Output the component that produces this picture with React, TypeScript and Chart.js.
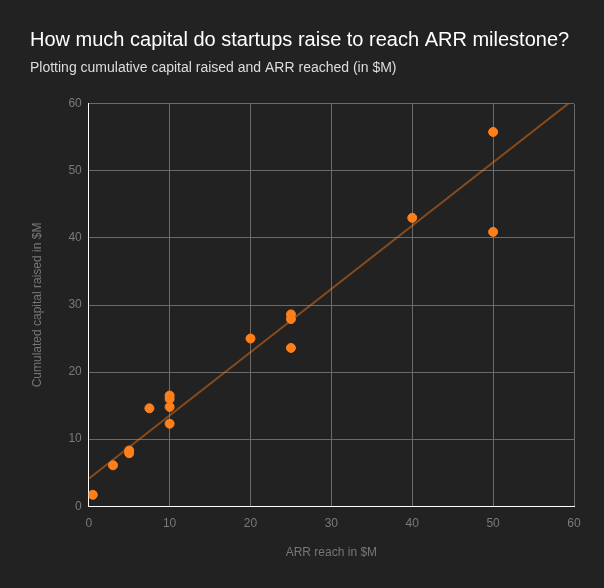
import React, { useEffect, useRef } from "react";
import { Chart, registerables } from "chart.js";

Chart.register(...registerables);

const arrReached = [0.5, 3, 5, 5, 7.5, 10, 10, 10, 10, 20, 25, 25, 25, 40, 50, 50];
const capitalRaised = [1.7, 6.1, 8.3, 7.9, 14.6, 16.5, 16.0, 14.8, 12.3, 25.0, 28.6, 27.9, 23.6, 43.0, 55.8, 40.9];
const trendX = [0, 60];
const trendY = [4.1, 60.7];
const axisTicks = [0, 10, 20, 30, 40, 50, 60];

export default function App() {
  const ref = useRef<HTMLCanvasElement>(null);
  useEffect(() => {
    document.body.style.margin = "0";
    document.body.style.background = "#222222";
    const ctx = ref.current!;
    const chart = new Chart(ctx, {
      type: "scatter",
      data: {
        datasets: [
          {
            label: "Startups",
            data: arrReached.map((x, i) => ({ x, y: capitalRaised[i] })),
            backgroundColor: "#ff7f1a",
            borderColor: "#ff7f1a",
            pointRadius: 4.5,
            pointHoverRadius: 4.5,
            order: 1,
          },
          {
            label: "Trend",
            type: "line",
            data: trendX.map((x, i) => ({ x, y: trendY[i] })),
            borderColor: "rgba(255,127,26,0.45)",
            borderWidth: 2,
            pointRadius: 0,
            fill: false,
            order: 2,
          } as any,
        ],
      },
      options: {
        animation: false,
        responsive: false,
        maintainAspectRatio: false,
        layout: { padding: { left: 30, right: 30, top: 28, bottom: 28 } },
        plugins: {
          legend: { display: false },
          tooltip: { enabled: false },
          title: {
            display: true,
            text: "How much capital do startups raise to reach ARR milestone?",
            align: "start",
            color: "#ffffff",
            font: { family: "Liberation Sans, Arial, sans-serif", size: 20, weight: "normal" },
            padding: { top: 0, bottom: 8 },
          },
          subtitle: {
            display: true,
            text: "Plotting cumulative capital raised and ARR reached (in $M)",
            align: "start",
            color: "#dddddd",
            font: { family: "Liberation Sans, Arial, sans-serif", size: 14, weight: "normal" },
            padding: { top: 0, bottom: 27 },
          },
        },
        scales: {
          x: {
            type: "linear",
            min: 0,
            max: 60,
            afterBuildTicks: (axis: any) => {
              axis.ticks = axisTicks.map((v) => ({ value: v }));
            },
            border: { display: true, color: "#ffffff", width: 1 },
            grid: { color: "#6a6a6a", drawTicks: false },
            ticks: {
              color: "#7a7a7a",
              padding: 10,
              font: { family: "Liberation Sans, Arial, sans-serif", size: 12 },
            },
            title: {
              display: true,
              text: "ARR reach in $M",
              color: "#777777",
              font: { family: "Liberation Sans, Arial, sans-serif", size: 12 },
              padding: { top: 5, bottom: 0 },
            },
          },
          y: {
            type: "linear",
            min: 0,
            max: 60,
            afterBuildTicks: (axis: any) => {
              axis.ticks = axisTicks.map((v) => ({ value: v }));
            },
            border: { display: true, color: "#ffffff", width: 1 },
            grid: { color: "#6a6a6a", drawTicks: false },
            ticks: {
              color: "#7a7a7a",
              padding: 7,
              font: { family: "Liberation Sans, Arial, sans-serif", size: 12 },
            },
            title: {
              display: true,
              text: "Cumulated capital raised in $M",
              color: "#777777",
              font: { family: "Liberation Sans, Arial, sans-serif", size: 12 },
              padding: { top: 0, bottom: 17 },
            },
          },
        },
      },
    });
    return () => chart.destroy();
  }, []);
  return (
    <div style={{ width: 604, height: 588, background: "#222222" }}>
      <canvas ref={ref} width={604} height={588} style={{ display: "block" }} />
    </div>
  );
}
